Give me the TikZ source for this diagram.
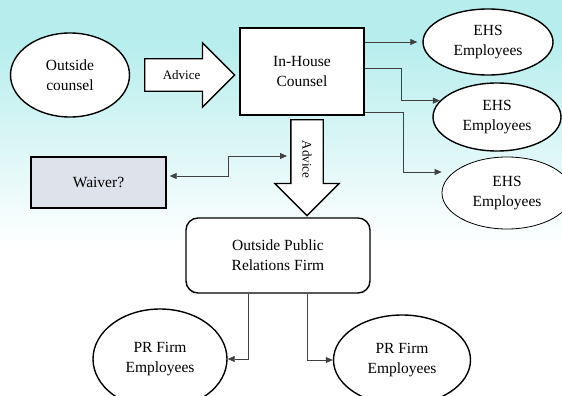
\documentclass[tikz,border=0pt]{standalone}
\usepackage{fontspec}
\setmainfont{Liberation Serif}
\usetikzlibrary{
  shapes,
  shapes.geometric,
  shapes.arrows,
  arrows.meta,
  calc,
  positioning
}
\definecolor{skytop}{RGB}{183,237,237}
\definecolor{waiverfill}{RGB}{222,226,235}

\begin{document}
\begin{tikzpicture}[x=1pt, y=-1pt,
    bubble/.style={ellipse, draw, line width=1.4pt, fill=white, inner sep=0pt,
      align=center, font=\fontsize{15.5}{20}\selectfont},
    box/.style={rectangle, draw, line width=1.4pt, fill=white, inner sep=0pt,
      align=center, font=\fontsize{15.5}{20}\selectfont},
    blockarrow/.style={single arrow, draw, line width=1.4pt, fill=white,
      font=\fontsize{13}{15}\selectfont, text height=9pt, text depth=0pt,
      inner ysep=11pt, inner xsep=2pt, single arrow head extend=16pt, anchor=tail},
    conn/.style={draw=black!75, line width=0.8pt, -{Triangle[length=7pt,width=6pt]}},
    both/.style={conn, {Triangle[length=7pt,width=6pt]}-{Triangle[length=7pt,width=6pt]}}]

    % background: cyan fading to white
    \path[use as bounding box, clip] (0,0) rectangle (562,396);
    \fill[skytop] (0,0) rectangle (562,40);
    \shade[top color=skytop, bottom color=white] (0,40) rectangle (562,246);

    \node[bubble, minimum width=119pt, minimum height=84pt] (counsel) at (70,75) {Outside\\counsel};
    \node[box, minimum width=124pt, minimum height=87pt] (house) at (302,71.5) {In-House\\Counsel};
    \node[blockarrow, minimum height=90pt] (advice1) at (144,75) {Advice};

    \node[bubble, minimum width=130pt, minimum height=66pt] (ehs1) at (488,42) {EHS\\Employees};
    \node[bubble, minimum width=128pt, minimum height=68pt] (ehs2) at (497,117) {EHS\\Employees};
    \node[bubble, line width=0.8pt, minimum width=130pt, minimum height=72pt] (ehs3) at (507,193) {EHS\\Employees};

    \node[box, fill=waiverfill, minimum width=135pt, minimum height=51pt] (waiver) at (98.5,182.5) {Waiver?};
    \node[blockarrow, minimum height=96pt, rotate=-90] (advice2) at (307,119) {Advice};

    \node[box, rounded corners=12pt, minimum width=184pt, minimum height=75pt] (prfirm) at (278,255.5) {Outside Public\\Relations Firm};
    \node[bubble, minimum width=134pt, minimum height=100pt] (pr1) at (160,359) {PR Firm\\Employees};
    \node[bubble, minimum width=137pt, minimum height=90pt] (pr2) at (402,360) {PR Firm\\Employees};

    % in-house counsel to the employees
    \draw[conn] ([yshift=29.5pt]house.east) -- ([xshift=-5pt]ehs1.west);
    \draw[conn] ([yshift=3.5pt]house.east) -| ([xshift=-39pt]ehs2.164) -- (ehs2.164);
    \draw[conn] ([yshift=-40.5pt]house.east) -| ([xshift=-38pt]ehs3.west |- 0,172) -- (ehs3.west |- 0,172);

    \draw[both] ([shift={(3pt,6.5pt)}]waiver.east) -- ++(59,0) |- ([xshift=-20pt]advice2.center |- 0,156);

    % PR firm to its employees
    \draw[conn] ([xshift=-30pt]prfirm.south) |- (pr1.east);
    \draw[conn] ([xshift=29pt]prfirm.south) |- (pr2.west);
\end{tikzpicture}
\end{document}
